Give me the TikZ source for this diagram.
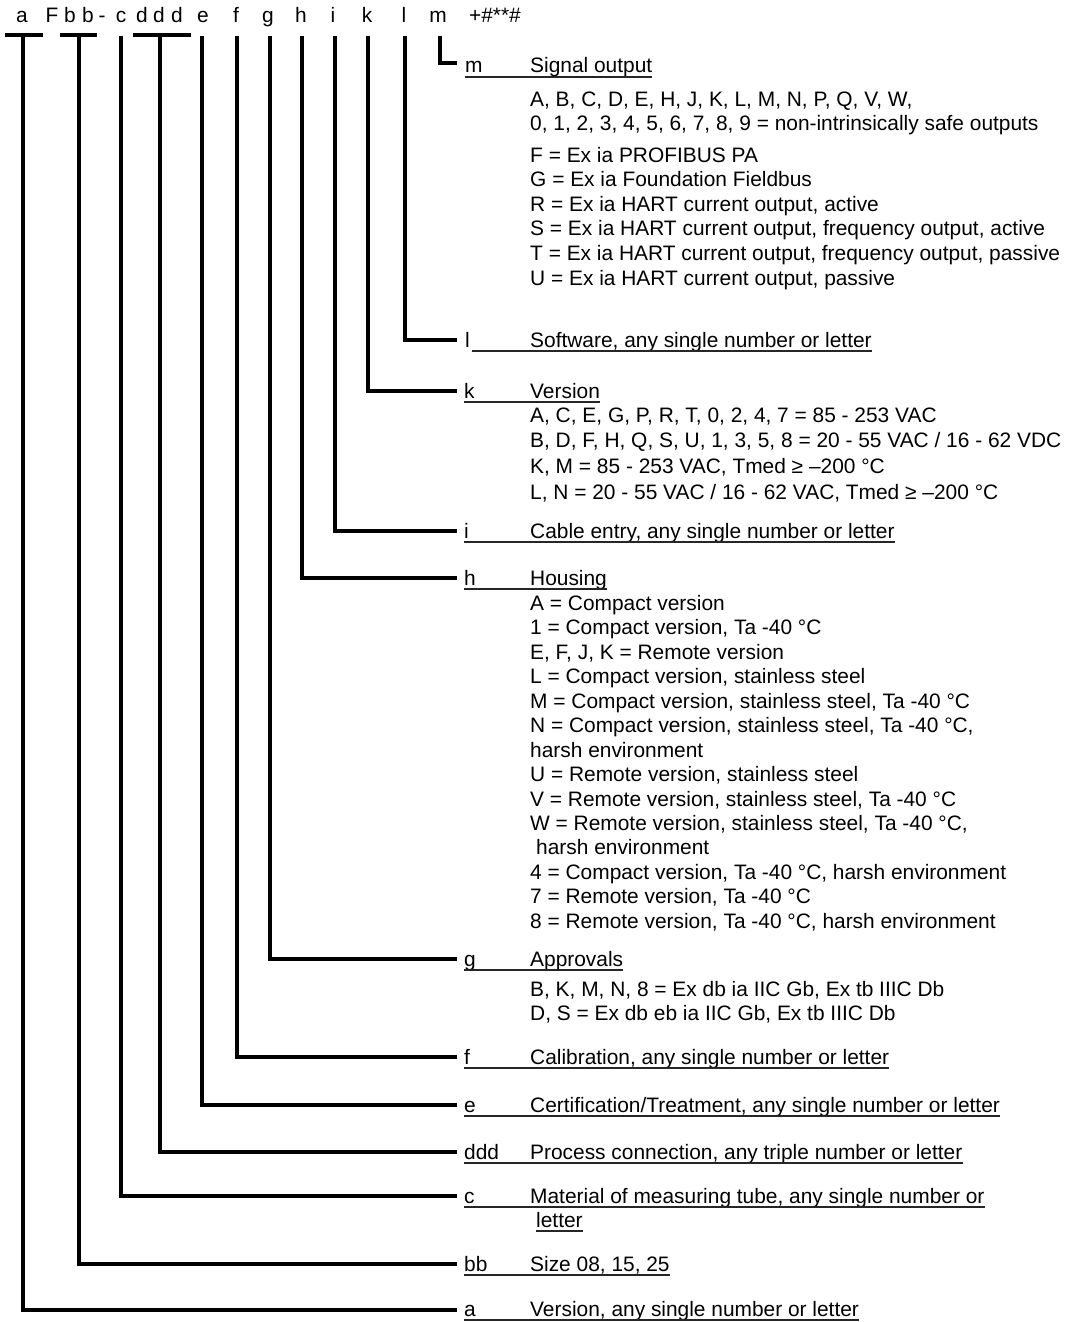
\documentclass[tikz,border=0pt]{standalone}
\usepackage{fontspec}
\setmainfont{Liberation Sans}
% One row of the key: stem from the code letter down to the row, then the
% underlined heading (key letter + title).
\newcommand\codeRow[6]{%
  \coordinate (t#1) at (#2,36);
  \coordinate (e#1) at (457,#3);
  \draw[branch] (t#1) |- (e#1);
  \node[txt] (k#1) at (464,#4) {#5};
  \node[txt] (h#1) at (530,#4) {#6};
  \draw[uline] ([yshift=-4bp]k#1.base west) -- ([yshift=-4bp]h#1.base east);
}
\begin{document}
\begin{tikzpicture}[x=1bp,y=-1bp,
  font=\fontsize{20.9bp}{24.5bp}\selectfont,
  txt/.style={anchor=base west, inner sep=0pt},
  hdr/.style={anchor=base, inner sep=0pt},
  branch/.style={line width=3.3bp},
  uline/.style={line width=1.1bp, black!85}]
\useasboundingbox (0,0) rectangle (1086,1322);

% order code letters
\node[hdr] (ca)  at (22,23)  {a};
\node[hdr] (cF)  at (52,23)  {F};
\node[hdr] (cb1) at (70,23)  {b};
\node[hdr] (cb2) at (88,23)  {b};
\node[hdr] (cdash) at (102,23) {-};
\node[hdr] (cc)  at (121,23) {c};
\node[hdr] (cd1) at (142,23) {d};
\node[hdr] (cd2) at (159,23) {d};
\node[hdr] (cd3) at (177,23) {d};
\node[hdr] (ce)  at (203,23) {e};
\node[hdr] (cf)  at (236,23) {f};
\node[hdr] (cg)  at (268,23) {g};
\node[hdr] (ch)  at (301,23) {h};
\node[hdr] (ci)  at (333,23) {i};
\node[hdr] (ck)  at (367,23) {k};
\node[hdr] (cl)  at (404,23) {l};
\node[hdr] (cm)  at (438,23) {m};
\node[hdr] (cx)  at (495,23) {+\#**\#};

% bars over the multi-character groups
\coordinate (barAl) at (5,35);   \coordinate (barAr) at (43,35);
\coordinate (barBl) at (60,35);  \coordinate (barBr) at (97,35);
\coordinate (barDl) at (133,35); \coordinate (barDr) at (191,35);
\draw[branch] (barAl) -- (barAr);
\draw[branch] (barBl) -- (barBr);
\draw[branch] (barDl) -- (barDr);

% m: signal output
\coordinate (tm) at (440,36);
\coordinate (em) at (457,63);
\draw[branch] (tm) |- (em);
\node[txt] (km) at (465,73) {m};
\node[txt] (hm) at (530,73) {Signal output};
\draw[uline] ([yshift=-4bp]km.base west) -- ([yshift=-4bp]hm.base east);
\node[txt] (m1) at (530,107) {A, B, C, D, E, H, J, K, L, M, N, P, Q, V, W,};
\node[txt] (m2) at (530,131) {0, 1, 2, 3, 4, 5, 6, 7, 8, 9 = non-intrinsically safe outputs};
\node[txt] (m3) at (530,163) {F = Ex ia PROFIBUS PA};
\node[txt] (m4) at (530,187) {G = Ex ia Foundation Fieldbus};
\node[txt] (m5) at (530,212) {R = Ex ia HART current output, active};
\node[txt] (m6) at (530,236) {S = Ex ia HART current output, frequency output, active};
\node[txt] (m7) at (530,261) {T = Ex ia HART current output, frequency output, passive};
\node[txt] (m8) at (530,286) {U = Ex ia HART current output, passive};

% l: software
\coordinate (tl) at (405,36);
\coordinate (el) at (457,340);
\draw[branch] (tl) |- (el);
\node[txt] (kl) at (465,347) {l};
\node[txt] (hl) at (530,347) {Software, any single number or letter};
\draw[uline] ([yshift=-4bp,xshift=2bp]kl.base east) -- ([yshift=-4bp]hl.base east);

% k: version
\codeRow{k}{368}{391}{398}{k}{Version}
\node[txt] (k1) at (530,422) {A, C, E, G, P, R, T, 0, 2, 4, 7 = 85 - 253 VAC};
\node[txt] (k2) at (530,447) {B, D, F, H, Q, S, U, 1, 3, 5, 8 = 20 - 55 VAC / 16 - 62 VDC};
\node[txt] (k3) at (530,473) {K, M = 85 - 253 VAC, Tmed ≥ –200 °C};
\node[txt] (k4) at (530,499) {L, N = 20 - 55 VAC / 16 - 62 VAC, Tmed ≥ –200 °C};

% i: cable entry
\codeRow{i}{335}{531}{538}{i}{Cable entry, any single number or letter}

% h: housing
\codeRow{h}{302}{578}{585}{h}{Housing}
\node[txt] (h1)  at (530,610) {A = Compact version};
\node[txt] (h2)  at (530,634) {1 = Compact version, Ta -40 °C};
\node[txt] (h3)  at (530,659) {E, F, J, K = Remote version};
\node[txt] (h4)  at (530,683) {L = Compact version, stainless steel};
\node[txt] (h5)  at (530,708) {M = Compact version, stainless steel, Ta -40 °C};
\node[txt] (h6)  at (530,732) {N = Compact version, stainless steel, Ta -40 °C,};
\node[txt] (h7)  at (530,757) {harsh environment};
\node[txt] (h8)  at (530,781) {U = Remote version, stainless steel};
\node[txt] (h9)  at (530,806) {V = Remote version, stainless steel, Ta -40 °C};
\node[txt] (h10) at (530,830) {W = Remote version, stainless steel, Ta -40 °C,};
\node[txt] (h11) at (536,854) {harsh environment};
\node[txt] (h12) at (530,879) {4 = Compact version, Ta -40 °C, harsh environment};
\node[txt] (h13) at (530,903) {7 = Remote version, Ta -40 °C};
\node[txt] (h14) at (530,928) {8 = Remote version, Ta -40 °C, harsh environment};

% g: approvals
\codeRow{g}{270}{959}{966}{g}{Approvals}
\node[txt] (g1) at (530,996)  {B, K, M, N, 8 = Ex db ia IIC Gb, Ex tb IIIC Db};
\node[txt] (g2) at (530,1020) {D, S = Ex db eb ia IIC Gb, Ex tb IIIC Db};

% f, e, ddd
\codeRow{f}{237}{1057}{1064}{f}{Calibration, any single number or letter}
\codeRow{e}{202}{1105}{1112}{e}{Certification/Treatment, any single number or letter}
\codeRow{d}{160}{1152}{1159}{ddd}{Process connection, any triple number or letter}

% c: material
\codeRow{c}{121}{1196}{1203}{c}{Material of measuring tube, any single number or}
\node[txt] (c1) at (536,1227) {letter};
\draw[uline] ([yshift=-4bp]c1.base west) -- ([yshift=-4bp]c1.base east);

% bb, a
\codeRow{b}{79}{1264}{1271}{bb}{Size 08, 15, 25}
\codeRow{a}{23}{1310}{1316}{a}{Version, any single number or letter}
\end{tikzpicture}
\end{document}
